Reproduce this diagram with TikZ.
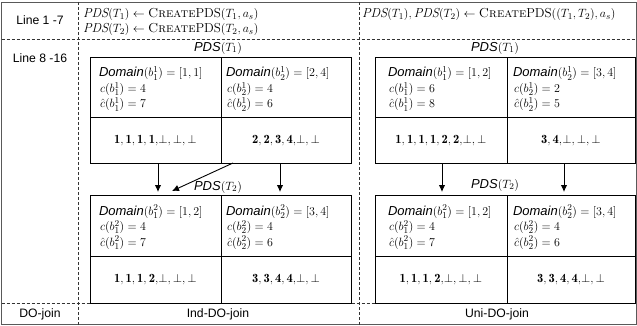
\documentclass[tikz,border=0pt]{standalone}
\usepackage{fontspec}
\setsansfont{Liberation Sans}
\usetikzlibrary{arrows.meta,calc}
\newcommand\infotext[8]{%
  \node[infoblock] (#1) at (#2,#3+20) {\begin{tabular}[t]{@{}l@{}}
    $\textsf{\textit{Domain}}(b_{#4}^{#5}) = [#6]$\\
    \hspace{1pt}$c(b_{#4}^{#5}) = #7$\\
    \hspace{1pt}$\hat{c}(b_{#4}^{#5}) = #8$
  \end{tabular}};
}
\begin{document}
\begin{tikzpicture}[x=1pt,y=-1pt,
  every node/.style={inner sep=0pt, outer sep=0pt, font=\fontsize{13}{15}\selectfont},
  infoblock/.style={anchor=base west, font=\fontsize{13}{15.5}\selectfont},
  cellbox/.style 2 args={draw, line width=0.9pt, anchor=north west, minimum width=#1, minimum height=#2},
  dline/.style={draw=black!80, line width=0.7pt, dash pattern=on 3pt off 2pt},
  frame/.style={draw=black!65, line width=0.8pt},
  arr/.style={line width=0.9pt, -{Latex[length=7pt,width=6.5pt]}},
  lbl/.style={font=\fontsize{12.2}{14}\selectfont\sffamily},
  vals/.style={font=\fontsize{12.5}{14}\selectfont}]
\useasboundingbox (0,0) rectangle (637,326);
% frame and grid
\draw[frame] (1.5,2) rectangle (636,324.5);
\draw[dline] (1.5,39) -- (636,39);
\draw[dline] (1.5,303) -- (636,303);
\draw[dline] (78,2) -- (78,324.5);
\draw[dline] (359,2) -- (359,324.5);
% row labels
\node[lbl] (l17) at (40,20) {Line 1 -7};
\node[lbl] (l816) at (40,58) {Line 8 -16};
\node[lbl] (ldo) at (40,314) {DO-join};
\node[lbl] (lind) at (218,314) {Ind-DO-join};
\node[lbl] (luni) at (497,314) {Uni-DO-join};
% row 1 text
\node[anchor=base west, font=\fontsize{13}{14.5}\selectfont] (ra) at (83,18) {\begin{tabular}[t]{@{}l@{}}
  $\mathit{PDS}(T_1) \leftarrow \mbox{\textsc{Create}PDS}(T_1, a_s)$\\
  $\mathit{PDS}(T_2) \leftarrow \mbox{\textsc{Create}PDS}(T_2, a_s)$
\end{tabular}};
\node[anchor=base west, font=\fontsize{13}{15}\selectfont] (rb) at (362,18) {$\mathit{PDS}(T_1), \mathit{PDS}(T_2) \leftarrow \mbox{\textsc{Create}PDS}((T_1, T_2), a_s)$};
% titles
\node (tL1) at (218,48) {$\textsf{\textit{PDS}}(T_1)$};
\node (tL2) at (218,187) {$\textsf{\textit{PDS}}(T_2)$};
\node (tR1) at (495,48) {$\textsf{\textit{PDS}}(T_1)$};
\node (tR2) at (495,185) {$\textsf{\textit{PDS}}(T_2)$};
% left boxes
\node[cellbox={131pt}{60pt}] (L1a) at (90,57) {};
\node[cellbox={130pt}{60pt}] (L1b) at (221,57) {};
\node[cellbox={131pt}{46pt}] (L1c) at (90,117) {};
\node[cellbox={130pt}{46pt}] (L1d) at (221,117) {};
\node[cellbox={131pt}{61pt}] (L2a) at (90,195) {};
\node[cellbox={130pt}{61pt}] (L2b) at (221,195) {};
\node[cellbox={131pt}{47pt}] (L2c) at (90,256) {};
\node[cellbox={130pt}{47pt}] (L2d) at (221,256) {};
% right boxes
\node[cellbox={132pt}{60pt}] (R1a) at (375,57) {};
\node[cellbox={128pt}{60pt}] (R1b) at (507,57) {};
\node[cellbox={132pt}{46pt}] (R1c) at (375,117) {};
\node[cellbox={128pt}{46pt}] (R1d) at (507,117) {};
\node[cellbox={132pt}{61pt}] (R2a) at (375,195) {};
\node[cellbox={128pt}{61pt}] (R2b) at (507,195) {};
\node[cellbox={132pt}{47pt}] (R2c) at (375,256) {};
\node[cellbox={128pt}{47pt}] (R2d) at (507,256) {};
% info texts
\infotext{iL1a}{99}{57}{1}{1}{1,1}{4}{7}
\infotext{iL1b}{226}{57}{2}{1}{2,4}{4}{6}
\infotext{iL2a}{99}{195}{1}{2}{1,2}{4}{7}
\infotext{iL2b}{226}{195}{2}{2}{3,4}{4}{6}
\infotext{iR1a}{388}{57}{1}{1}{1,2}{6}{8}
\infotext{iR1b}{513}{57}{2}{1}{3,4}{2}{5}
\infotext{iR2a}{388}{195}{1}{2}{1,2}{4}{7}
\infotext{iR2b}{513}{195}{2}{2}{3,4}{4}{6}
% values
\node[vals] (vL1c) at (L1c.center) {$\mathbf{1,1,1,1,}\bot,\bot,\bot$};
\node[vals] (vL1d) at (L1d.center) {$\mathbf{2,2,3,4,}\bot,\bot$};
\node[vals] (vL2c) at (L2c.center) {$\mathbf{1,1,1,2,}\bot,\bot,\bot$};
\node[vals] (vL2d) at (L2d.center) {$\mathbf{3,3,4,4,}\bot,\bot$};
\node[vals] (vR1c) at (R1c.center) {$\mathbf{1,1,1,1,2,2,}\bot,\bot$};
\node[vals] (vR1d) at (R1d.center) {$\mathbf{3,4,}\bot,\bot,\bot$};
\node[vals] (vR2c) at (R2c.center) {$\mathbf{1,1,1,2,}\bot,\bot,\bot$};
\node[vals] (vR2d) at (R2d.center) {$\mathbf{3,3,4,4,}\bot,\bot$};
% arrows
\draw[arr] ([xshift=2.5pt]L1c.south) -- ([xshift=2.5pt,yshift=3pt]L2a.north);
\draw[arr] ([xshift=-6pt]L1d.south) -- ([xshift=-6pt,yshift=3pt]L2b.north);
\draw[arr] ([xshift=12pt]L1d.south west) -- ([xshift=16.5pt,yshift=4pt]L2a.north);
\draw[arr] ([xshift=1pt]R1c.south) -- ([xshift=1pt,yshift=3pt]R2a.north);
\draw[arr] ([xshift=-7pt]R1d.south) -- ([xshift=-7pt,yshift=3pt]R2b.north);
\end{tikzpicture}
\end{document}
